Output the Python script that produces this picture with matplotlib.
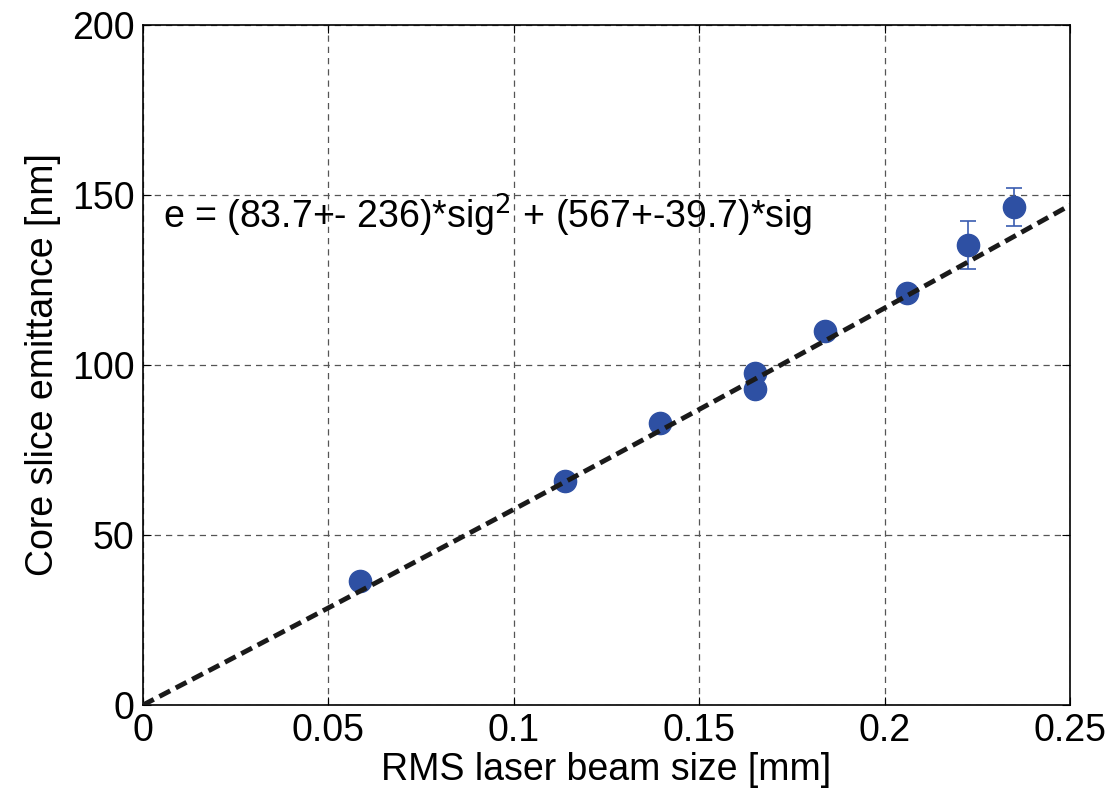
import matplotlib
matplotlib.use('Agg')
import matplotlib.pyplot as plt
import numpy as np

plt.rcParams['font.family'] = ['Liberation Sans', 'DejaVu Sans']

# measured points
sig = [0.0585, 0.1138, 0.1394, 0.165, 0.165, 0.184, 0.206, 0.2225, 0.235]
emit = [36.5, 65.9, 82.9, 97.6, 92.9, 110.0, 121.2, 135.3, 146.5]
emit_err = [1.0, 1.0, 1.0, 1.5, 1.5, 1.5, 2.0, 7.0, 5.5]

# fit coefficients
a2 = 83.7
a1 = 567.0

fig = plt.figure(figsize=(11.12, 7.94), dpi=100)
ax = fig.add_axes([0.1286, 0.1121, 0.8336, 0.8564])

ax.errorbar(sig, emit, yerr=emit_err, fmt='o', color='#2e50a3', ms=16,
            ecolor='#3a5cb0', elinewidth=1.2, capsize=6, capthick=1.2, zorder=3)

xs = np.linspace(0, 0.25, 200)
ax.plot(xs, a2 * xs**2 + a1 * xs, '--', color='#1a1a1a', lw=3.5,
        dashes=(2.5, 1.3), zorder=4)

ax.text(0.0055, 144, 'e = (83.7+- 236)*sig$^2$ + (567+-39.7)*sig',
        fontsize=27, va='center', ha='left')

ax.set_xlim(0, 0.25)
ax.set_ylim(0, 200)
ax.set_xticks([0, 0.05, 0.1, 0.15, 0.2, 0.25])
ax.set_xticklabels(['0', '0.05', '0.1', '0.15', '0.2', '0.25'])
ax.set_yticks([0, 50, 100, 150, 200])
ax.grid(True, linestyle=(0, (5, 4)), color='#555555', lw=0.9)
ax.tick_params(direction='in', labelsize=27, length=6, pad=6, top=True, right=True)
for s in ax.spines.values():
    s.set_linewidth(1.2)

ax.set_xlabel('RMS laser beam size [mm]', fontsize=27, labelpad=2)
ax.set_ylabel('Core slice emittance [nm]', fontsize=27, labelpad=8)

fig.savefig('out.png', dpi=100)
